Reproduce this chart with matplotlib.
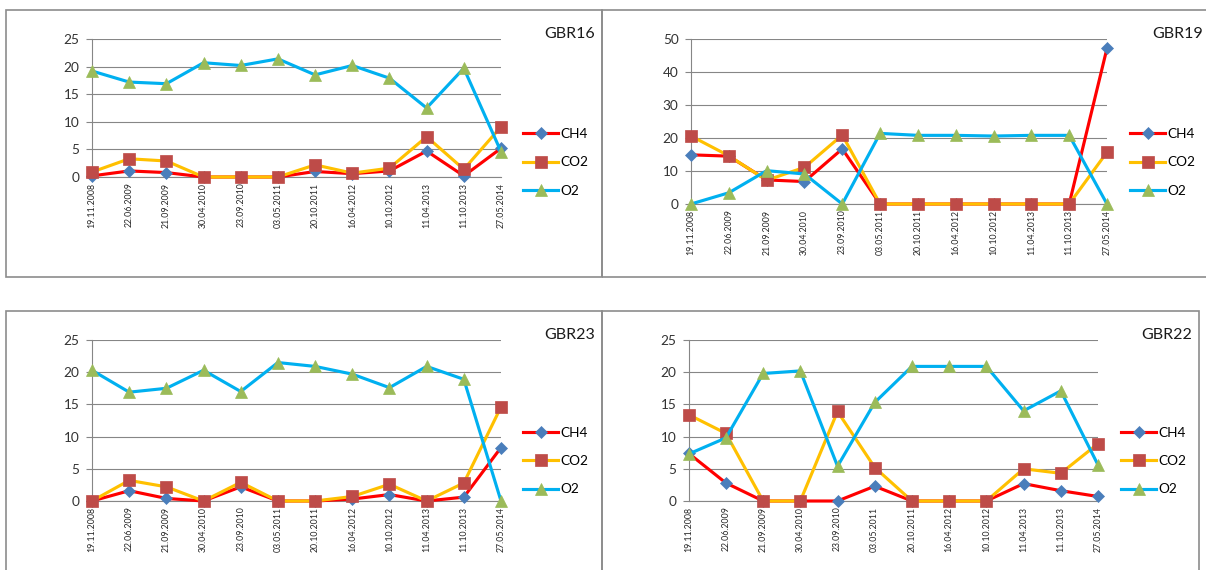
import matplotlib
matplotlib.use("Agg")
import matplotlib.pyplot as plt
from matplotlib.patches import Rectangle

plt.rcParams['font.family'] = ['Lato', 'DejaVu Sans']

dates = ["19.11.2008", "22.06.2009", "21.09.2009", "30.04.2010", "23.09.2010", "03.05.2011",
         "20.10.2011", "16.04.2012", "10.10.2012", "11.04.2013", "11.10.2013", "27.05.2014"]
series_names = ["CH4", "CO2", "O2"]

gbr16_ch4 = [0.2, 1.1, 0.8, 0, 0, 0, 1.0, 0.6, 1.1, 4.7, 0.2, 5.2]
gbr16_co2 = [0.9, 3.3, 2.9, 0, 0, 0, 2.2, 0.7, 1.6, 7.3, 1.4, 9.1]
gbr16_o2 = [19.2, 17.2, 16.9, 20.7, 20.2, 21.4, 18.5, 20.2, 17.9, 12.5, 19.7, 4.6]

gbr19_ch4 = [14.9, 14.5, 7.3, 6.8, 16.7, 0, 0, 0, 0, 0, 0, 47.2]
gbr19_co2 = [20.6, 14.6, 7.2, 11.1, 20.9, 0, 0, 0, 0, 0, 0, 15.7]
gbr19_o2 = [0, 3.4, 10.1, 9.1, 0, 21.4, 20.8, 20.8, 20.6, 20.8, 20.8, 0]

gbr23_ch4 = [0, 1.6, 0.4, 0, 2.2, 0, 0, 0.3, 1.0, 0, 0.6, 8.3]
gbr23_co2 = [0, 3.2, 2.2, 0, 2.9, 0, 0, 0.7, 2.6, 0, 2.8, 14.6]
gbr23_o2 = [20.3, 16.9, 17.5, 20.3, 17.0, 21.5, 20.9, 19.7, 17.6, 20.9, 18.9, 0]

gbr22_ch4 = [7.4, 2.8, 0, 0, 0, 2.3, 0, 0, 0, 2.7, 1.6, 0.7]
gbr22_co2 = [13.4, 10.5, 0, 0, 13.9, 5.2, 0, 0, 0, 5.0, 4.3, 8.9]
gbr22_o2 = [7.3, 9.8, 19.8, 20.2, 5.4, 15.3, 20.9, 20.9, 20.9, 14.0, 17.1, 5.6]

panels = [
    ("GBR16", [gbr16_ch4, gbr16_co2, gbr16_o2], 25, 5),
    ("GBR19", [gbr19_ch4, gbr19_co2, gbr19_o2], 50, 10),
    ("GBR23", [gbr23_ch4, gbr23_co2, gbr23_o2], 25, 5),
    ("GBR22", [gbr22_ch4, gbr22_co2, gbr22_o2], 25, 5),
]

W, H = 1206, 570
fig = plt.figure(figsize=(W / 100, H / 100), dpi=100)

def fx(px):
    return px / W

def fy(py):
    return 1 - py / H

# axes boxes in pixel coords: (left, right, top, bottom)
ax_boxes = [(92, 501, 39, 177), (691, 1107, 39, 204), (92, 501, 340, 501), (688.7, 1098, 340, 501)]
frames = [(5.7, 601.7, 10, 277), (601.7, 1212, 10, 277), (5.7, 601.7, 310.7, 580), (601.7, 1199, 310.7, 580)]
legend_pos = [(523, 162.5), (1130, 162.5), (523, 461), (1121, 461)]
title_pos = [(595, 34), (1203, 34.5), (595, 335), (1192, 335)]

line_colors = ["#FF0000", "#FFC000", "#00B0F0"]
marker_colors = ["#4A7EBB", "#BE4B48", "#9BBB59"]
markers = ["D", "s", "^"]
msizes = [5.8, 8.5, 9.0]
grey = "#868686"

for fr in frames:
    l, r, t, b = fr
    fig.patches.append(Rectangle((fx(l), fy(b)), fx(r) - fx(l), fy(t) - fy(b),
                                 transform=fig.transFigure, fill=False,
                                 edgecolor="#8c8c8c", linewidth=1.2, zorder=0))

x = list(range(len(dates)))
for i, (name, data, ymax, step) in enumerate(panels):
    l, r, t, b = ax_boxes[i]
    ax = fig.add_axes([fx(l), fy(b), fx(r) - fx(l), fy(t) - fy(b)])
    for j, vals in enumerate(data):
        ax.plot(x, vals, color=line_colors[j], lw=2.25, marker=markers[j], ms=msizes[j],
                mfc=marker_colors[j], mec=marker_colors[j], mew=0.5, clip_on=False,
                label=series_names[j], zorder=3 + j)
    ax.set_xlim(0, len(dates) - 1)
    ax.set_ylim(0, ymax)
    ax.set_yticks(range(0, ymax + 1, step))
    ax.set_xticks(x)
    ax.set_xticklabels(dates, rotation=90, fontsize=6.3, color="#262626")
    ax.tick_params(axis='x', length=0, pad=4)
    ax.tick_params(axis='y', length=4, width=0.8, color=grey, pad=5, labelsize=9.8, labelcolor="#333333")
    ax.grid(axis='y', color=grey, lw=0.8)
    ax.set_axisbelow(True)
    for s in ["top", "right"]:
        ax.spines[s].set_visible(False)
    for s in ["left", "bottom"]:
        ax.spines[s].set_color(grey)
        ax.spines[s].set_linewidth(0.8)
    lx, ly = legend_pos[i]
    ax.legend(loc="center left", bbox_to_anchor=(fx(lx), fy(ly)), bbox_transform=fig.transFigure,
              frameon=False, fontsize=9.8, handlelength=2.6, handletextpad=0.15,
              labelspacing=1.2, borderpad=0, borderaxespad=0)
    tx, ty = title_pos[i]
    fig.text(fx(tx), fy(ty), name, ha="right", va="center", fontsize=11.5, color="#1a1a1a")

fig.savefig("out.png", dpi=100)
